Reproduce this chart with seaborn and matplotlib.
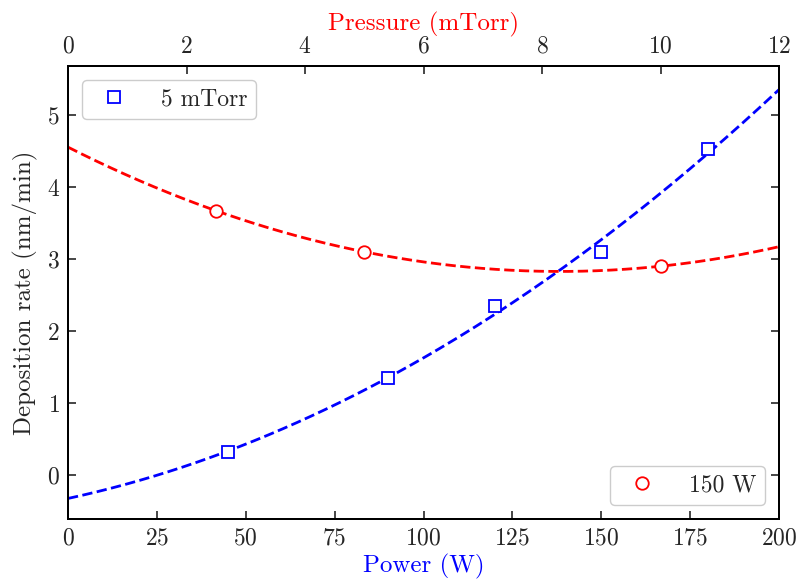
import numpy as np
import pandas as pd
import matplotlib
matplotlib.use("Agg")
import matplotlib.pyplot as plt
import seaborn as sns

power = [45, 90, 120, 150, 180]
rate_power = [0.32, 1.35, 2.35, 3.10, 4.53]
pressure = [2.5, 5.0, 10.0]
rate_pressure = [3.67, 3.10, 2.90]

sns.set_style("ticks")
plt.rcParams.update({
    "font.family": "serif",
    "font.serif": ["cmr10"],
    "mathtext.fontset": "cm",
    "axes.formatter.use_mathtext": True,
    "font.size": 17,
    "axes.linewidth": 1.4,
})

fig = plt.figure(figsize=(7.98, 5.8), dpi=100)
ax = fig.add_axes([68/798, 1-519/580, (779-68)/798, (519-66)/580])

# quadratic fits of the measured points
pfit = np.polyfit(power, rate_power, 2)
xp = np.linspace(0, 200, 200)
df_pfit = pd.DataFrame({"x": xp, "y": np.polyval(pfit, xp)})
qfit = np.polyfit(pressure, rate_pressure, 2)
xq = np.linspace(0, 12, 200)
df_qfit = pd.DataFrame({"x": xq, "y": np.polyval(qfit, xq)})

df_p = pd.DataFrame({"x": power, "y": rate_power})
df_q = pd.DataFrame({"x": pressure, "y": rate_pressure})

sns.lineplot(data=df_pfit, x="x", y="y", ax=ax, color="blue", linestyle="--", lw=2.0, zorder=2)
ax.plot(df_p["x"], df_p["y"], ls="none", marker="s", ms=9, mfc="white", mec="blue", mew=1.3, zorder=3, label="5 mTorr")

ax2 = ax.twiny()
sns.lineplot(data=df_qfit, x="x", y="y", ax=ax2, color="red", linestyle="--", lw=2.0, zorder=2)
ax2.plot(df_q["x"], df_q["y"], ls="none", marker="o", ms=9, mfc="white", mec="red", mew=1.3, zorder=3, label="150 W")

ax.set_xlim(0, 200)
ax2.set_xlim(0, 12)
ax.set_ylim(-0.61, 5.68)
ax.set_xticks([0, 25, 50, 75, 100, 125, 150, 175, 200])
ax2.set_xticks([0, 2, 4, 6, 8, 10, 12])
ax.set_yticks([0, 1, 2, 3, 4, 5])

ax.set_xlabel("Power (W)", color="blue", fontsize=18, labelpad=3)
ax2.set_xlabel("Pressure (mTorr)", color="red", fontsize=18, labelpad=4)
ax.set_ylabel("Deposition rate (nm/min)", fontsize=18, labelpad=6)

ax.tick_params(axis="both", direction="in", length=6, width=1.2, labelsize=17, right=True, top=False, pad=6)
ax2.tick_params(axis="x", direction="in", length=6, width=1.2, labelsize=17, pad=6)

for a in (ax, ax2):
    for s in a.spines.values():
        s.set_visible(True)
        s.set_linewidth(1.4)
        s.set_color("black")

ax.legend(loc="upper left", fontsize=17, borderpad=0.35, handletextpad=1.0, handlelength=2.0,
          borderaxespad=0.6, framealpha=1, edgecolor="#cccccc")
ax2.legend(loc="lower right", fontsize=17, borderpad=0.35, handletextpad=1.0, handlelength=2.0,
           borderaxespad=0.6, framealpha=1, edgecolor="#cccccc")

fig.savefig("out.png", dpi=100)
